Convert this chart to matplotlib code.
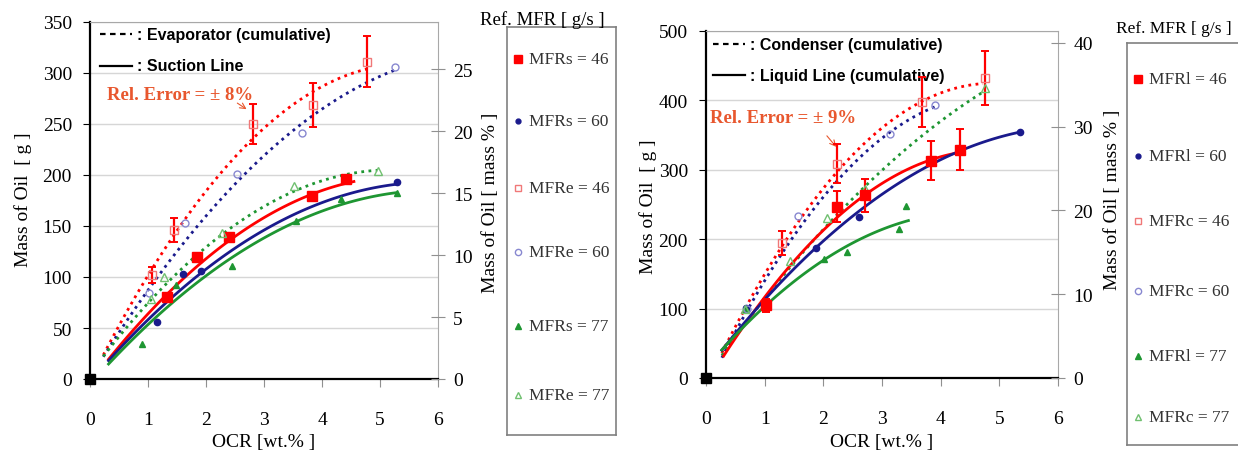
import numpy as np
import matplotlib
matplotlib.use('Agg')
import matplotlib.pyplot as plt

plt.rcParams['font.family'] = ['Liberation Serif', 'DejaVu Serif']

W, H = 1238, 456
RED, BLUE, GREEN = '#FF0000', '#1A1A8C', '#1E9632'
RED_L, BLUE_L, GREEN_L = '#F07878', '#8888D0', '#70C070'
REL = '#E8572E'
SANS = ['Liberation Sans', 'DejaVu Sans']

# ---------- left panel: evaporator (open) / suction line (filled) ----------
s46_x = [1.33, 1.85, 2.39, 3.82, 4.42]
s46_y = [80, 120, 139, 179, 196]
s60_x = [1.15, 1.6, 1.92, 5.29]
s60_y = [56, 103, 106, 193]
s77_x = [0.9, 1.48, 2.44, 3.56, 4.33, 5.29]
s77_y = [34, 92, 111, 155, 176, 182]
e46_x = [1.07, 1.44, 2.81, 3.85, 4.78]
e46_y = [102, 146, 250, 269, 311]
e60_x = [1.01, 1.64, 2.54, 3.66, 5.25]
e60_y = [84, 153, 201, 241, 306]
e77_x = [1.05, 1.27, 2.28, 3.52, 4.96]
e77_y = [78, 100, 143, 189, 204]

# trend lines (smoothed like the spreadsheet trendline)
tr_e46 = ([0.23, 0.58, 1.07, 1.5, 2.0, 2.8, 3.8, 4.85], [26, 59, 105, 145, 185, 240, 276, 306])
tr_e60 = ([0.23, 1.15, 1.6, 2.55, 3.7, 5.25], [24, 92, 135, 198, 250, 303])
tr_e77 = ([0.23, 0.35, 1.21, 1.67, 2.3, 3.5, 4.95], [24, 30, 86, 112, 143, 185, 204])
tr_s46 = ([0.32, 1.33, 1.85, 2.39, 3.82, 4.55], [20, 80, 112, 138, 178, 195])
tr_s60 = ([0.32, 1.9, 3.0, 4.0, 5.29], [17, 106, 145, 171, 192])
tr_s77 = ([0.32, 2.4, 3.56, 4.33, 5.29], [15, 116, 155, 172, 182])

# ---------- right panel: condenser (open) / liquid line (filled) ----------
l46_x = [1.03, 2.23, 2.71, 3.83, 4.33]
l46_y = [105, 247, 263, 313, 329]
l60_x = [0.69, 1.87, 2.61, 5.35]
l60_y = [101, 187, 232, 355]
l77_x = [0.68, 2.01, 2.4, 3.29, 3.41]
l77_y = [100, 172, 181, 214, 248]
c46_x = [1.29, 2.23, 3.69, 4.75]
c46_y = [194, 309, 398, 432]
c60_x = [0.7, 1.57, 3.13, 3.9]
c60_y = [100, 234, 351, 393]
c77_x = [0.66, 1.43, 2.06, 2.71, 4.75]
c77_y = [100, 168, 230, 273, 418]

tr_c46 = ([0.27, 1.26, 2.23, 3.08, 3.7, 4.72], [32, 190, 305, 355, 397, 428])
tr_c60 = ([0.27, 1.3, 2.23, 3.13, 3.95], [30, 177, 288, 351, 393])
tr_c77 = ([0.27, 1.0, 2.06, 2.74, 3.65, 4.72], [30, 115, 228, 278, 336, 417])
tr_l46 = ([0.3, 1.05, 1.55, 2.23, 2.71, 3.83, 4.35], [35, 116, 170, 239, 263, 312, 326])
tr_l60 = ([0.27, 1.0, 1.87, 2.61, 3.8, 5.35], [38, 115, 190, 238, 305, 355])
tr_l77 = ([0.27, 1.0, 2.0, 3.0, 3.45], [38, 108, 168, 210, 230])

left_labels = ['MFRs = 46', 'MFRs = 60', 'MFRe = 46', 'MFRe = 60', 'MFRs = 77', 'MFRe = 77']
right_labels = ['MFRl = 46', 'MFRl = 60', 'MFRc = 46', 'MFRc = 60', 'MFRl = 77', 'MFRc = 77']


def box(l, t, r, b):
    return [l / W, 1 - b / H, (r - l) / W, (b - t) / H]


def trend(ax, pts, color, ls):
    xs, ys = pts
    c = np.polyfit(xs, ys, 2)
    xx = np.linspace(min(xs), max(xs), 120)
    ax.plot(xx, np.polyval(c, xx), color=color, ls=ls, lw=2, zorder=3)


def style(ax, ymax, ystep, y2max, y2step):
    ax.set_xlim(0, 6)
    ax.set_ylim(0, ymax)
    ax.set_xticks(range(7))
    ax.set_yticks(np.arange(0, ymax + 1, ystep))
    ax.yaxis.grid(True, color='#D6D6D6', lw=1)
    ax.set_axisbelow(True)
    for s in ['top', 'right']:
        ax.spines[s].set_color('#A8A8A8')
    for s in ['left', 'bottom']:
        ax.spines[s].set_color('black')
        ax.spines[s].set_linewidth(1.6)
    ax.tick_params(axis='x', direction='out', length=6, color='#909090', pad=17, labelsize=14)
    ax.tick_params(axis='y', direction='out', length=5, color='black', pad=8, labelsize=14)
    ax2 = ax.twinx()
    ax2.set_ylim(0, y2max)
    ax2.set_yticks(np.arange(0, y2max, y2step))
    ax2.tick_params(axis='y', direction='inout', length=10, color='#909090', pad=6, labelsize=14)
    for s in ax2.spines.values():
        s.set_visible(False)
    ax.plot(0, 0, 's', color='black', ms=7, clip_on=False, zorder=6)
    return ax2


def key_lines(ax, y1, y2, t1, t2, x0, x1):
    ax.plot([x0, x1], [y1, y1], transform=ax.transAxes, color='black', ls=(0, (2.5, 2)), lw=1.6)
    ax.plot([x0, x1], [y2, y2], transform=ax.transAxes, color='black', lw=1.6)
    ax.text(x1 + 0.015, y1, t1, transform=ax.transAxes, family=SANS, weight='bold', fontsize=11.5, va='center')
    ax.text(x1 + 0.015, y2, t2, transform=ax.transAxes, family=SANS, weight='bold', fontsize=11.5, va='center')


def legend_box(l, t, r, b, rows, labels):
    lax = fig.add_axes(box(l, t, r, b))
    lax.set_xlim(0, r - l)
    lax.set_ylim(b - t, 0)
    lax.set_xticks([])
    lax.set_yticks([])
    for s in lax.spines.values():
        s.set_color('#808080')
        s.set_linewidth(1.2)
    marks = [('s', RED, RED, 6), ('o', BLUE, BLUE, 3.5), ('s', 'none', RED_L, 5),
             ('o', 'none', BLUE_L, 4.5), ('^', GREEN, GREEN, 4.5), ('^', 'none', GREEN_L, 5)]
    for (m, fc, ec, ms), lab, yy in zip(marks, labels, rows):
        lax.plot(11, yy - t, m, mfc=fc, mec=ec, ms=ms, mew=1)
        lax.text(22, yy - t, lab, fontsize=12.5, va='center', color='#333333')


fig = plt.figure(figsize=(W / 100, H / 100), dpi=100)

# ---------------- left ----------------
ax = fig.add_axes(box(90, 23, 438, 380))
ax2 = style(ax, 350, 50, 28.8, 5)
trend(ax, tr_e46, RED, (0, (1, 1.6)))
trend(ax, tr_e60, BLUE, (0, (1, 1.6)))
trend(ax, tr_e77, GREEN, (0, (1, 1.6)))
trend(ax, tr_s46, RED, '-')
trend(ax, tr_s60, BLUE, '-')
trend(ax, tr_s77, GREEN, '-')
ax.plot(s46_x, s46_y, 's', color=RED, ms=7, zorder=5)
ax.plot(s60_x, s60_y, 'o', color=BLUE, ms=4.5, zorder=5)
ax.plot(s77_x, s77_y, '^', color=GREEN, ms=5, zorder=5)
ax.errorbar(e46_x, e46_y, yerr=0.08 * np.array(e46_y), fmt='s', mfc='none', mec=RED_L, ms=6,
            ecolor=RED, elinewidth=1.6, capsize=3, capthick=1.4, zorder=5)
ax.plot(e60_x, e60_y, 'o', mfc='none', mec=BLUE_L, ms=5, zorder=5)
ax.plot(e77_x, e77_y, '^', mfc='none', mec=GREEN_L, ms=5.5, zorder=5)
key_lines(ax, 0.966, 0.877, ': Evaporator (cumulative)', ': Suction Line', 0.03, 0.12)
ax.text(0.29, 279, 'Rel. Error = \u00b1 8%', color=REL, fontsize=13.5, weight='bold', va='center')
ax.annotate('', xy=(2.74, 263), xytext=(2.5, 272),
            arrowprops=dict(arrowstyle='->', color=REL, lw=0.8))

# ---------------- right ----------------
bx = fig.add_axes(box(706, 32, 1058, 379))
bx2 = style(bx, 500, 100, 41.4, 10)
trend(bx, tr_c46, RED, (0, (1, 1.6)))
trend(bx, tr_c60, BLUE, (0, (1, 1.6)))
trend(bx, tr_c77, GREEN, (0, (1, 1.6)))
trend(bx, tr_l46, RED, '-')
trend(bx, tr_l60, BLUE, '-')
trend(bx, tr_l77, GREEN, '-')
bx.errorbar(l46_x, l46_y, yerr=0.09 * np.array(l46_y), fmt='s', color=RED, ms=7,
            ecolor=RED, elinewidth=1.6, capsize=3, capthick=1.4, zorder=5)
bx.plot(l60_x, l60_y, 'o', color=BLUE, ms=4.5, zorder=5)
bx.plot(l77_x, l77_y, '^', color=GREEN, ms=5, zorder=5)
bx.errorbar(c46_x, c46_y, yerr=0.09 * np.array(c46_y), fmt='s', mfc='none', mec=RED_L, ms=6,
            ecolor=RED, elinewidth=1.6, capsize=3, capthick=1.4, zorder=5)
bx.plot(c60_x, c60_y, 'o', mfc='none', mec=BLUE_L, ms=5, zorder=5)
bx.plot(c77_x, c77_y, '^', mfc='none', mec=GREEN_L, ms=5.5, zorder=5)
key_lines(bx, 0.9625, 0.873, ': Condenser (cumulative)', ': Liquid Line (cumulative)', 0.02, 0.11)
bx.text(0.07, 376, 'Rel. Error = \u00b1 9%', color=REL, fontsize=13.5, weight='bold', va='center')
bx.annotate('', xy=(2.25, 330), xytext=(2.03, 352),
            arrowprops=dict(arrowstyle='->', color=REL, lw=0.8))

# axis titles
fig.text(264 / W, 1 - 443 / H, 'OCR [wt.% ]', ha='center', va='center', fontsize=14)
fig.text(882 / W, 1 - 443 / H, 'OCR [wt.% ]', ha='center', va='center', fontsize=14)
fig.text(23 / W, 1 - 200 / H, 'Mass of Oil  [ g ]', rotation=90, ha='center', va='center', fontsize=14)
fig.text(648 / W, 1 - 207 / H, 'Mass of Oil  [ g ]', rotation=90, ha='center', va='center', fontsize=14)
fig.text(490 / W, 1 - 203 / H, 'Mass of Oil [ mass % ]', rotation=90, ha='center', va='center', fontsize=14)
fig.text(1112 / W, 1 - 200 / H, 'Mass of Oil [ mass % ]', rotation=90, ha='center', va='center', fontsize=14)

# legends
fig.text(480 / W, 1 - 20 / H, 'Ref. MFR [ g/s ]', ha='left', va='center', fontsize=13.5)
fig.text(1116 / W, 1 - 29 / H, 'Ref. MFR [ g/s ]', ha='left', va='center', fontsize=12.5)
legend_box(507, 28, 616, 436, [60, 122, 189, 253, 327, 396], left_labels)
legend_box(1127, 44, 1250, 446, [80, 157, 222, 292, 357, 418], right_labels)

fig.savefig('out.png', dpi=100)
